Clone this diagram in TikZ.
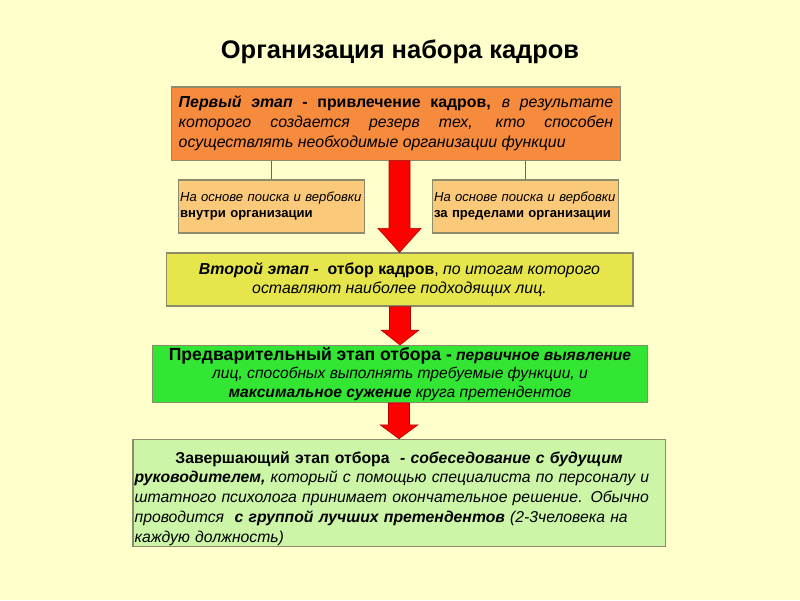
\documentclass[tikz,border=0pt]{standalone}
\usepackage{fontspec}
\setmainfont{Liberation Sans}
\usetikzlibrary{calc}

\definecolor{fondo}{HTML}{FFFFCC}
\definecolor{naranja}{HTML}{F68B3E}
\definecolor{melocoton}{HTML}{FBC97A}
\definecolor{amarillo}{HTML}{E6E64C}
\definecolor{verde}{HTML}{33E633}
\definecolor{verdeclaro}{HTML}{CCF5A8}
\definecolor{borde}{HTML}{8C8C6A}

\tikzset{
  etapa/.style={draw=borde, line width=0.8pt, inner sep=1pt},
  linea/.style={draw=gray!80!black, line width=0.6pt},
  redarrow/.style={fill=red, draw=red!70!black, line width=0.4pt}
}

% flecha roja: desde, hasta, largo de la punta, media anchura de la punta
\newcommand{\bigarrow}[4]{%
  \filldraw[redarrow] ($(#1.south -| #2.north)+(-10.5,0)$) -- ($(#2.north)+(-10.5,-#3)$)
    -- ($(#2.north)+(-#4,-#3)$) -- (#2.north) -- ($(#2.north)+(#4,-#3)$)
    -- ($(#2.north)+(10.5,-#3)$) -- ($(#1.south -| #2.north)+(10.5,0)$) -- cycle;}

\begin{document}
\begin{tikzpicture}[x=0.025cm, y=-0.025cm]
    % Fondo
    \fill[fondo] (0,0) rectangle (800,600);
    \useasboundingbox (0,0) rectangle (800,600);

    % Titulo
    \node[font=\fontsize{18.1}{21}\selectfont\bfseries] (titulo) at (400,52) {Организация набора кадров};

    % Primera etapa
    \node[etapa, fill=naranja, minimum width=318.7pt, minimum height=52pt,
          text width=309pt, align=justify, font=\fontsize{11.3}{14.2}\selectfont] (primera) at (396,123.5)
      {\textbf{\textit{Первый этап}} \textbf{- привлечение кадров,} \textit{в результате}\linebreak
       \textit{которого создается резерв тех, кто способен}\linebreak
       \textit{осуществлять необходимые организации функции}};

    % Fuentes de reclutamiento
    \node[etapa, fill=melocoton, minimum width=131.6pt, minimum height=37.7pt,
          text width=130pt, align=left, font=\fontsize{9.3}{11.4}\selectfont] (interna) at (271.5,206.5)
      {\textit{На основе поиска и вербовки}\\\textbf{внутри организации}};
    \node[etapa, fill=melocoton, minimum width=131.6pt, minimum height=37.7pt,
          text width=130pt, align=left, font=\fontsize{9.3}{11.4}\selectfont] (externa) at (525.5,206.5)
      {\textit{На основе поиска и вербовки}\\\textbf{за пределами организации}};
    \draw[linea] (interna.north |- primera.south) -- (interna.north);
    \draw[linea] (externa.north |- primera.south) -- (externa.north);

    % Segunda etapa
    \node[etapa, fill=amarillo, minimum width=332pt, minimum height=37.7pt,
          align=center, font=\fontsize{11.3}{13.6}\selectfont] (segunda) at (399.5,279.5)
      {\textbf{\textit{Второй этап -}} \ \textbf{отбор кадров}, \textit{по итогам которого}\\
       \textit{оставляют наиболее подходящих лиц.}};

    % Seleccion preliminar
    \node[etapa, fill=verde, minimum width=351.4pt, minimum height=39.8pt,
          align=center, font=\fontsize{11.1}{13.4}\selectfont] (preliminar) at (400,374)
      {{\fontsize{12.5}{13.4}\selectfont\textbf{Предварительный этап отбора -}} \textbf{\textit{первичное выявление}}\\
       \textit{лиц, способных выполнять требуемые функции, и}\\
       \textbf{\textit{максимальное сужение}} \textit{круга претендентов}};

    % Seleccion final
    \node[etapa, fill=verdeclaro, minimum width=378.4pt, minimum height=75.4pt,
          text width=376pt, align=left, font=\fontsize{11.2}{14}\selectfont] (final) at (399,493)
      {\rule{0pt}{16pt}\hspace*{29pt}\textbf{Завершающий этап отбора} \ \textbf{\textit{- собеседование с будущим}}\\
       \textbf{\textit{руководителем,}} \textit{который с помощью специалиста по персоналу и}\\
       \textit{штатного психолога принимает окончательное решение. Обычно}\\
       \textit{проводится} \ \textbf{\textit{с группой лучших претендентов}} \textit{(2-3человека на}\\
       \textit{каждую должность)}};

    % Flechas
    \bigarrow{primera}{segunda}{24}{21.5}
    \bigarrow{segunda}{preliminar}{15}{19}
    \bigarrow{preliminar}{final}{14}{19}
\end{tikzpicture}
\end{document}
